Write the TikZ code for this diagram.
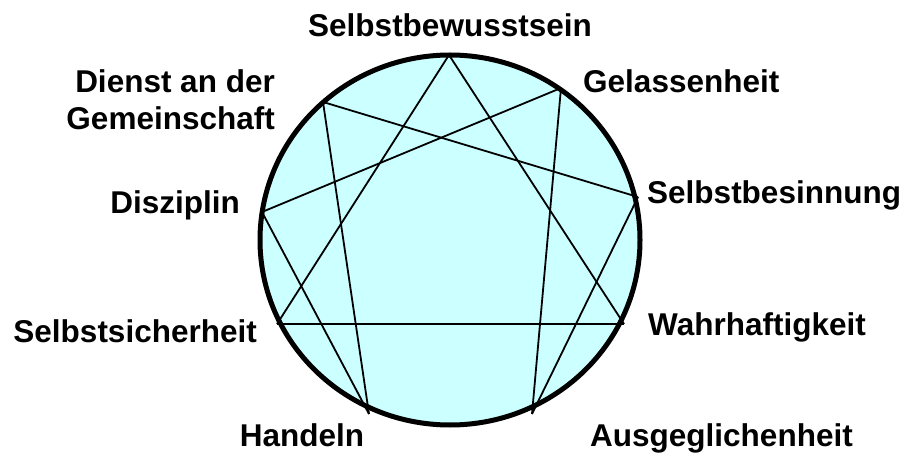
\documentclass[tikz,border=0pt]{standalone}
\usepackage{fontspec}
\setmainfont{Liberation Sans}
\definecolor{ennFill}{HTML}{CCFFFF}
\definecolor{ennInk}{HTML}{000000}
\tikzset{
  enn ring/.style={draw=ennInk, fill=ennFill, line width=5pt},
  enn line/.style={draw=ennInk, line width=1.8pt, line join=round},
  enn label/.style={font=\fontsize{31.5}{37}\selectfont\bfseries, text=ennInk, inner sep=0pt},
}
\begin{document}
\begin{tikzpicture}[x=1pt,y=-1pt]
  \useasboundingbox (0,0) rectangle (907,454);
  \draw[enn ring] (450,240) ellipse [x radius=190, y radius=185];
  \coordinate (p0) at (449,55);
  \coordinate (p1) at (561,88);
  \coordinate (p2) at (638,197);
  \coordinate (p3) at (624,324);
  \coordinate (p4) at (532,414);
  \coordinate (p5) at (369,414);
  \coordinate (p6) at (277,324);
  \coordinate (p7) at (262,212);
  \coordinate (p8) at (323,102);
  \foreach \a/\b in {0/3,3/6,6/0,1/4,4/2,2/8,8/5,5/7,7/1} {
    \draw[enn line] (p\a) -- (p\b);
  }
  \node[enn label, anchor=base] (selbstbewusstsein) at (450,37) {Selbstbewusstsein};
  \node[enn label, anchor=base west] (gelassenheit) at (583,93) {Gelassenheit};
  \node[enn label, anchor=base west] (selbstbesinnung) at (647,204) {Selbstbesinnung};
  \node[enn label, anchor=base west] (wahrhaftigkeit) at (648,335) {Wahrhaftigkeit};
  \node[enn label, anchor=base west] (ausgeglichenheit) at (590,446) {Ausgeglichenheit};
  \node[enn label, anchor=base] (handeln) at (302,446) {Handeln};
  \node[enn label, anchor=base east] (selbstsicherheit) at (257,342) {Selbstsicherheit};
  \node[enn label, anchor=base east] (disziplin) at (240,214) {Disziplin};
  \node[enn label, anchor=base east] (dienst) at (275,93) {Dienst an der};
  \node[enn label, anchor=base east] (gemeinschaft) at (275,130) {Gemeinschaft};
\end{tikzpicture}
\end{document}
